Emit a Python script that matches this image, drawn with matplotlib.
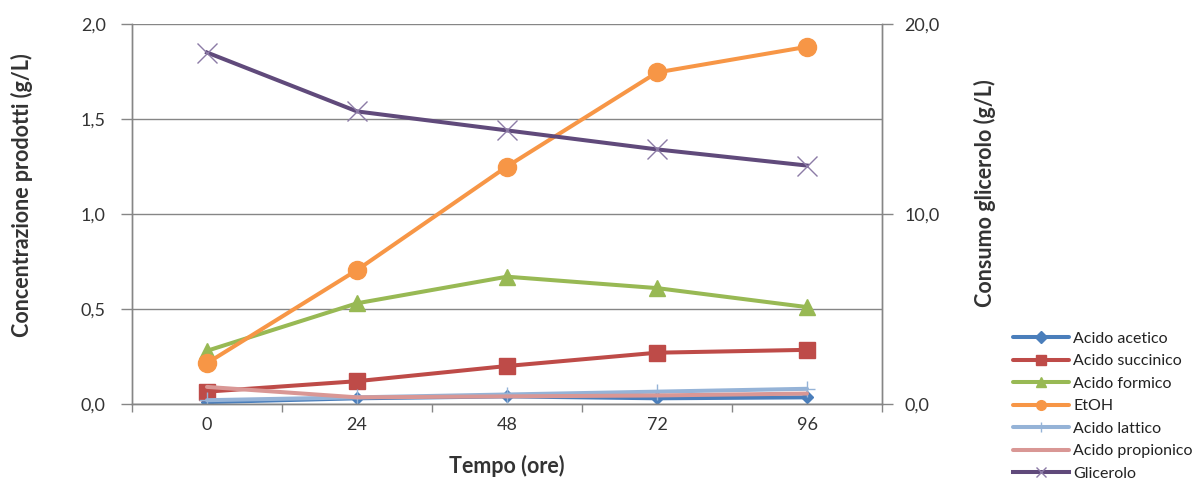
import matplotlib
matplotlib.use("Agg")
import matplotlib.pyplot as plt
from matplotlib.ticker import FuncFormatter, FixedLocator

plt.rcParams['font.family'] = ['Lato', 'DejaVu Sans']

hours = ['0', '24', '48', '72', '96']
acetico = [0.01, 0.03, 0.04, 0.03, 0.035]
succinico = [0.065, 0.12, 0.20, 0.27, 0.285]
formico = [0.28, 0.53, 0.67, 0.61, 0.51]
etoh = [0.215, 0.705, 1.25, 1.745, 1.88]
lattico = [0.02, 0.035, 0.05, 0.065, 0.08]
propionico = [0.09, 0.035, 0.04, 0.045, 0.055]
glicerolo = [18.5, 15.4, 14.4, 13.4, 12.55]

W, H = 1204, 479
fig = plt.figure(figsize=(W / 100, H / 100), dpi=100)
ax = fig.add_axes([132 / W, 1 - 404 / H, 750 / W, 380 / H])
ax2 = ax.twinx()

x = list(range(len(hours)))
lw = 2.9
series = [
    ('Acido acetico', acetico, '#4A7EBB', 'D', 6, {}),
    ('Acido succinico', succinico, '#BE4B48', 's', 12, {}),
    ('Acido formico', formico, '#98B954', '^', 12, {}),
    ('EtOH', etoh, '#F79646', 'o', 13, {}),
    ('Acido lattico', lattico, '#95B3D7', '+', 12, {'markeredgewidth': 1.0}),
    ('Acido propionico', propionico, '#D99795', 'None', 8, {}),
]
handles = []
for name, vals, col, mk, ms, kw in series:
    h, = ax.plot(x, vals, color=col, lw=lw, marker=mk, markersize=ms,
                 markerfacecolor=col, markeredgecolor=col, label=name,
                 solid_capstyle='round', **kw)
    handles.append(h)

hg, = ax2.plot(x, glicerolo, color='#604A7B', lw=lw, marker='x', markersize=14,
               markeredgewidth=1.0, markeredgecolor='#8C7BA6', label='Glicerolo')
handles.append(hg)

ax.set_xlim(-0.5, 4.5)
ax.set_ylim(0, 2.0)
ax2.set_ylim(0, 20)

gray = '#868686'
fmt = FuncFormatter(lambda v, p: f"{v:.1f}".replace('.', ','))
ax.set_yticks([0, 0.5, 1.0, 1.5, 2.0])
ax.yaxis.set_major_formatter(fmt)
ax2.set_yticks([0, 10, 20])
ax2.yaxis.set_major_formatter(fmt)
ax.grid(axis='y', color=gray, lw=1.0)
ax.set_axisbelow(True)

ax.set_xticks(x)
ax.set_xticklabels(hours)
ax.xaxis.set_minor_locator(FixedLocator([-0.5 + i for i in range(6)]))
ax.tick_params(axis='x', which='major', length=0, labelsize=13, pad=9, colors='#333333')
ax.tick_params(axis='x', which='minor', length=6, width=1, color=gray, direction='out')
ax.tick_params(axis='y', length=8, width=1, color=gray, labelsize=13, pad=11, labelcolor='#333333')
ax2.tick_params(axis='y', length=8, width=1, color=gray, labelsize=13, pad=8, labelcolor='#333333')

for a in (ax, ax2):
    a.spines['top'].set_visible(False)
    for s in ('left', 'right', 'bottom'):
        a.spines[s].set_color(gray)
        a.spines[s].set_linewidth(1.0)

tkw = dict(fontsize=15.5, fontweight='bold', color='#333333')
fig.text(22 / W, 1 - 195 / H, 'Concentrazione prodotti (g/L)', rotation=90,
         ha='center', va='center', **tkw)
fig.text(985 / W, 1 - 193 / H, 'Consumo glicerolo (g/L)', rotation=90,
         ha='center', va='center', **tkw)
fig.text(507 / W, 1 - 466 / H, 'Tempo (ore)', ha='center', va='center', **tkw)

leg = fig.legend(handles=handles, loc='upper left',
                 bbox_to_anchor=(1011 / W, 1 - 330 / H), frameon=False,
                 fontsize=11.5, handlelength=3.5, handletextpad=0.3,
                 labelspacing=0.52, borderaxespad=0, borderpad=0.1)
for t in leg.get_texts():
    t.set_color('#222222')
for lh in leg.legend_handles:
    lh.set_markersize(min(lh.get_markersize(), 7))

fig.savefig('out.png', dpi=100)
